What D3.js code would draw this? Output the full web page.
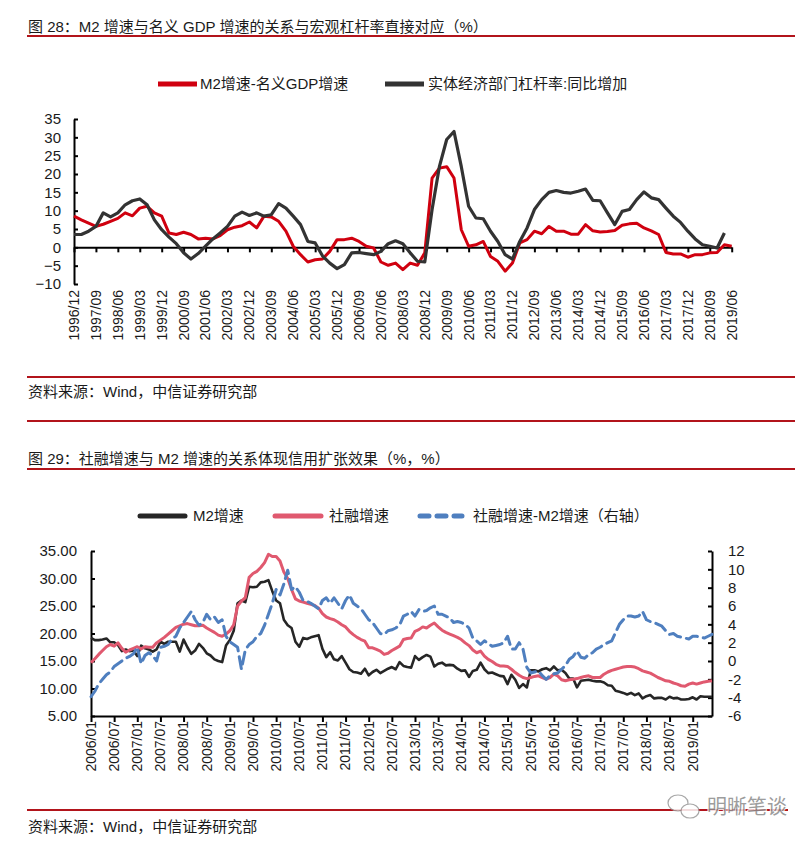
<!DOCTYPE html>
<html><head><meta charset="utf-8">
<script src="https://cdn.jsdelivr.net/npm/d3@7"></script>
<style>
body{margin:0;background:#fff;}
svg{display:block;font-family:"Liberation Sans",Arial,"Noto Sans CJK SC",sans-serif;}
</style></head><body>
<svg id="c" width="812" height="842"></svg>
<script>
// ---------- Chart 1 data (quarterly, 1996/12 - 2019/06) ----------
const q1TickLabels = ["1996/12","1997/09","1998/06","1999/03","1999/12","2000/09","2001/06","2002/03","2002/12","2003/09","2004/06","2005/03","2005/12","2006/09","2007/06","2008/03","2008/12","2009/09","2010/06","2011/03","2011/12","2012/09","2013/06","2014/03","2014/12","2015/09","2016/06","2017/03","2017/12","2018/09","2019/06"];
const m2MinusGdp = [8.5,7.5,6.6,5.7,6.3,7.1,7.9,9.4,8.6,10.7,
11.2,9.4,8.5,3.9,3.5,4.1,3.5,2.3,2.5,2.3,
3.2,4.8,5.5,5.9,6.9,5.3,8.5,8.3,7.1,4.4,
0.3,-2.0,-4.0,-3.4,-3.2,-1.1,2.1,2.1,2.5,1.6,
0.3,-0.2,-4.0,-4.9,-4.3,-6.1,-4.3,-4.9,-1.5,18.9,
21.6,22.0,18.9,4.8,0.3,0.7,1.6,-2.5,-3.8,-6.5,
-4.3,1.2,2.1,4.4,3.7,5.7,4.4,4.4,3.6,3.6,
6.2,4.5,4.2,4.3,4.6,6.0,6.4,6.6,5.3,4.5,
3.5,-1.4,-1.8,-1.8,-2.7,-2.0,-2.0,-1.5,-1.4,0.7,
0.3];
const leverageChange = [3.5,3.5,4.4,5.7,9.4,8.3,9.4,11.6,12.7,13.2,
11.6,7.5,4.8,2.8,1.0,-1.5,-3.2,-1.7,0.3,2.3,
3.9,5.7,8.5,9.6,8.7,9.4,8.5,8.9,11.9,10.7,
8.5,6.2,1.6,1.2,-2.3,-4.3,-5.8,-4.7,-1.5,-1.4,
-1.7,-2.0,-1.1,1.0,1.8,1.0,-1.5,-3.8,-4.0,10.3,
22.0,29.4,31.6,22.0,11.2,8.0,7.8,4.4,1.6,-2.0,
-3.2,1.6,5.3,10.3,13.0,15.0,15.5,15.0,14.8,15.3,
15.9,12.8,12.7,9.4,6.2,9.8,10.3,13.0,15.1,13.5,
13.0,10.7,8.5,6.8,4.4,2.3,0.7,0.3,-0.2,3.9,
null];
const y1Ticks = [-10,-5,0,5,10,15,20,25,30,35];

// ---------- Chart 2 data (monthly, 2006/01 - 2019/06) ----------
const m2TickLabels = ["2006/01","2006/07","2007/01","2007/07","2008/01","2008/07","2009/01","2009/07","2010/01","2010/07","2011/01","2011/07","2012/01","2012/07","2013/01","2013/07","2014/01","2014/07","2015/01","2015/07","2016/01","2016/07","2017/01","2017/07","2018/01","2018/07","2019/01"];
const m2Growth = [
19.2,18.8,18.8,18.9,19.1,18.4,18.4,17.9,16.8,17.1,16.8,16.9,
15.9,17.8,17.3,17.1,16.7,17.1,18.5,18.1,18.5,18.5,18.5,16.7,
18.9,17.5,16.3,16.9,18.1,17.4,16.4,16.0,15.3,15.0,14.8,17.8,
18.8,20.5,25.5,26.0,25.7,28.5,28.4,28.5,29.3,29.4,29.7,27.7,
26.0,25.5,22.5,21.5,21.0,18.5,17.6,19.2,19.0,19.3,19.5,19.7,
17.2,15.7,16.6,15.3,15.1,15.9,14.7,13.5,13.0,12.9,12.7,13.6,
12.4,13.0,13.4,12.8,13.2,13.6,13.9,13.5,14.8,14.1,13.9,13.8,
15.9,15.2,15.7,16.1,15.8,14.0,14.5,14.7,14.2,14.3,14.2,13.6,
13.2,13.3,12.1,13.2,13.4,14.7,13.5,12.8,12.9,12.6,12.3,12.2,
10.8,12.5,11.6,10.1,10.8,10.2,13.3,13.3,13.1,13.5,13.7,13.3,
14.0,13.3,13.4,12.8,11.8,11.8,10.2,11.4,11.5,11.6,11.4,11.3,
11.3,11.1,10.6,10.5,9.6,9.4,9.2,8.9,9.2,8.8,9.1,8.2,
8.6,8.8,8.2,8.3,8.3,8.0,8.5,8.2,8.3,8.0,8.0,8.1,
8.4,8.0,8.6,8.5,8.5,8.5];
const tsfGrowth = [
14.7,15.4,16.2,16.9,17.6,18.0,17.7,18.3,17.3,16.6,17.0,17.3,
17.6,17.2,17.6,17.5,17.5,18.3,18.8,19.3,19.9,20.5,21.1,21.4,
21.7,21.8,21.6,21.4,21.4,21.5,21.0,20.6,20.2,19.7,19.5,19.9,
20.5,21.6,25.0,25.9,26.5,30.2,30.9,31.3,32.0,32.9,34.4,34.0,
34.0,33.2,31.2,30.0,28.0,26.3,25.9,25.7,25.5,25.3,25.1,24.6,
23.6,23.0,22.7,22.5,22.1,21.6,21.2,20.4,19.8,19.3,18.9,18.6,
17.4,17.4,17.1,16.8,16.2,16.4,16.9,17.3,17.7,18.9,19.1,19.2,
20.4,20.7,21.2,21.0,21.5,21.9,21.2,20.6,20.2,19.9,19.6,19.3,
18.9,18.3,17.8,17.0,16.5,16.8,15.9,15.3,14.9,14.4,14.1,14.1,
14.0,13.5,12.9,12.4,12.0,11.8,12.0,12.2,12.3,12.0,11.7,12.0,
12.6,12.3,11.6,11.4,11.6,11.7,11.8,12.0,12.2,12.3,12.0,12.0,
12.0,12.6,13.0,13.3,13.5,13.7,13.9,14.0,14.0,13.9,13.6,13.2,
13.0,12.8,12.4,12.0,11.7,11.4,11.3,11.0,10.8,10.5,10.4,10.8,
11.0,10.8,11.0,11.2,11.3,11.4];
const tsfMinusM2 = [
-3.9,-3.3,-2.5,-2.0,-1.5,-1.2,-0.6,-0.3,0.0,0.3,0.5,0.8,
1.5,-0.3,0.6,0.9,0.6,0.0,1.5,1.6,1.8,2.4,2.7,3.6,
4.2,4.8,5.4,4.5,3.9,4.2,5.1,4.5,4.8,4.2,4.5,2.7,
2.1,1.8,1.5,-0.9,1.2,1.8,2.1,2.7,3.0,3.9,5.1,6.3,
7.8,7.2,8.4,9.9,7.8,8.1,7.5,6.6,6.5,6.3,6.0,5.7,
6.6,6.9,6.3,6.9,6.3,5.7,6.6,7.2,6.3,6.0,5.7,5.1,
4.5,4.2,3.6,3.0,2.9,3.3,3.4,3.6,3.9,4.9,5.1,5.4,
4.9,5.6,5.4,5.5,5.8,6.0,5.1,5.1,4.9,4.7,4.2,4.3,
4.2,4.0,3.6,2.5,2.2,1.8,2.2,1.9,1.6,1.7,1.8,2.0,
2.7,1.3,1.3,2.0,1.3,-0.7,-1.3,-1.2,-1.1,-1.6,-2.0,-1.6,
-1.4,-1.3,-0.9,-0.5,0.2,0.5,1.1,0.4,0.3,0.7,0.9,1.3,
1.5,1.8,2.0,2.2,3.1,4.0,4.5,4.9,4.9,4.8,4.9,5.4,
4.5,4.3,4.2,4.0,3.8,3.3,2.9,3.0,2.7,2.6,2.5,2.4,
2.7,2.7,2.6,2.5,2.7,2.9];
const y2LeftTicks = [5,10,15,20,25,30,35];
const y2RightTicks = [-6,-4,-2,0,2,4,6,8,10,12];

// ---------- categories ----------
const quarterCats = [];
for (let y = 1996, m = 12; quarterCats.length < m2MinusGdp.length; ) {
  quarterCats.push(y + "/" + String(m).padStart(2, "0"));
  m += 3; if (m > 12) { m -= 12; y++; }
}
const monthCats = [];
for (let y = 2006, m = 1; monthCats.length < m2Growth.length; ) {
  monthCats.push(y + "/" + String(m).padStart(2, "0"));
  m += 1; if (m > 12) { m = 1; y++; }
}

// ---------- drawing ----------
const svg = d3.select("#c");
const RULE = "#b2141b";
const TXT = "#1a1a1a";

function rule(y, x2) {
  svg.append("line").attr("x1", 27).attr("x2", x2 || 795)
    .attr("y1", y).attr("y2", y).attr("stroke", RULE).attr("stroke-width", 2);
}
function txt(x, y, s, size, opts) {
  const t = svg.append("text").attr("x", x).attr("y", y).text(s)
    .attr("font-size", size).attr("fill", TXT);
  if (opts && opts.anchor) t.attr("text-anchor", opts.anchor);
  return t;
}

// headers / footers
txt(28, 32, "图 28：M2 增速与名义 GDP 增速的关系与宏观杠杆率直接对应（%）", 15);
rule(36);
rule(377);
txt(28, 397, "资料来源：Wind，中信证券研究部", 15);
rule(421);
txt(28, 464, "图 29：社融增速与 M2 增速的关系体现信用扩张效果（%，%）", 15);
rule(469);
rule(810, 788);
txt(28, 832, "资料来源：Wind，中信证券研究部", 15);

// ===== Chart 1 =====
const c1 = { left: 74, right: 731.7, top: 119, bottom: 284 };
const x1 = d3.scalePoint().domain(quarterCats).range([c1.left, c1.right]);
const y1 = d3.scaleLinear().domain([-10, 35]).range([c1.bottom, c1.top]);
const g1 = svg.append("g");

const yAx1 = g1.append("g").attr("transform", `translate(${c1.left},0)`)
  .call(d3.axisLeft(y1).tickValues(y1Ticks).tickSizeInner(-4).tickSizeOuter(0).tickPadding(13));
const xAx1 = g1.append("g").attr("transform", `translate(0,${y1(0)})`)
  .call(d3.axisBottom(x1).tickValues(q1TickLabels).tickSizeInner(5).tickSizeOuter(0).tickFormat(""));
[yAx1, xAx1].forEach(a => {
  a.select(".domain").attr("stroke", "#000").attr("stroke-width", 2);
  a.selectAll(".tick line").attr("stroke", "#000").attr("stroke-width", 2);
  a.selectAll("text").attr("font-size", 15).attr("fill", TXT).attr("font-family", null);
});
g1.append("g").selectAll("text").data(q1TickLabels).join("text")
  .attr("transform", d => `translate(${x1(d)},290) rotate(-90)`)
  .attr("text-anchor", "end").attr("dy", "0.35em")
  .attr("font-size", 14).attr("fill", TXT).text(d => d);

const line1 = d3.line().defined(d => d[1] != null)
  .x(d => x1(d[0])).y(d => y1(d[1]));
g1.append("path").datum(quarterCats.map((c, i) => [c, m2MinusGdp[i]]))
  .attr("d", line1).attr("fill", "none").attr("stroke", "#d0000f")
  .attr("stroke-width", 3).attr("stroke-linejoin", "round");
g1.append("path").datum(quarterCats.map((c, i) => [c, leverageChange[i]]))
  .attr("d", line1).attr("fill", "none").attr("stroke", "#333333")
  .attr("stroke-width", 3.2).attr("stroke-linejoin", "round");

// legend 1
svg.append("line").attr("x1", 158).attr("x2", 197).attr("y1", 84).attr("y2", 84)
  .attr("stroke", "#d0000f").attr("stroke-width", 5);
txt(200, 89, "M2增速-名义GDP增速", 15);
svg.append("line").attr("x1", 385).attr("x2", 424).attr("y1", 84).attr("y2", 84)
  .attr("stroke", "#333333").attr("stroke-width", 5);
txt(428, 89, "实体经济部门杠杆率:同比增加", 15);

// ===== Chart 2 =====
const c2 = { left: 91, right: 712, top: 551, bottom: 716 };
const x2 = d3.scalePoint().domain(monthCats).range([c2.left, c2.right]);
const y2L = d3.scaleLinear().domain([5, 35]).range([c2.bottom, c2.top]);
const y2R = d3.scaleLinear().domain([-6, 12]).range([c2.bottom, c2.top]);
const g2 = svg.append("g");

const lAx = g2.append("g").attr("transform", `translate(${c2.left},0)`)
  .call(d3.axisLeft(y2L).tickValues(y2LeftTicks).tickSizeInner(-4).tickSizeOuter(0)
    .tickPadding(14).tickFormat(d3.format(".2f")));
const rAx = g2.append("g").attr("transform", `translate(${c2.right},0)`)
  .call(d3.axisRight(y2R).tickValues(y2RightTicks).tickSizeInner(-4).tickSizeOuter(0)
    .tickPadding(16).tickFormat(d => d < 0 ? "-" + Math.abs(d) : d));
const bAx = g2.append("g").attr("transform", `translate(0,${c2.bottom})`)
  .call(d3.axisBottom(x2).tickValues(m2TickLabels).tickSizeInner(6).tickSizeOuter(0).tickFormat(""));
[lAx, rAx, bAx].forEach(a => {
  a.select(".domain").attr("stroke", "#000").attr("stroke-width", 2);
  a.selectAll(".tick line").attr("stroke", "#000").attr("stroke-width", 2);
  a.selectAll("text").attr("font-size", 15).attr("fill", TXT).attr("font-family", null);
});
g2.append("g").selectAll("text").data(m2TickLabels).join("text")
  .attr("transform", d => `translate(${x2(d)},721) rotate(-90)`)
  .attr("text-anchor", "end").attr("dy", "0.35em")
  .attr("font-size", 14).attr("fill", TXT).text(d => d);

const lineL = d3.line().x(d => x2(d[0])).y(d => y2L(d[1]));
const lineR = d3.line().x(d => x2(d[0])).y(d => y2R(d[1]));
g2.append("path").datum(monthCats.map((c, i) => [c, m2Growth[i]]))
  .attr("d", lineL).attr("fill", "none").attr("stroke", "#262626")
  .attr("stroke-width", 2.6).attr("stroke-linejoin", "round");
g2.append("path").datum(monthCats.map((c, i) => [c, tsfGrowth[i]]))
  .attr("d", lineL).attr("fill", "none").attr("stroke", "#e0596f")
  .attr("stroke-width", 3).attr("stroke-linejoin", "round");
g2.append("path").datum(monthCats.map((c, i) => [c, tsfMinusM2[i]]))
  .attr("d", lineR).attr("fill", "none").attr("stroke", "#4f7fbf")
  .attr("stroke-width", 3).attr("stroke-linejoin", "round")
  .attr("stroke-linecap", "round").attr("stroke-dasharray", "12,6");

// legend 2
svg.append("line").attr("x1", 140).attr("x2", 185).attr("y1", 516).attr("y2", 516)
  .attr("stroke", "#262626").attr("stroke-width", 5).attr("stroke-linecap", "round");
txt(193, 521, "M2增速", 15);
svg.append("line").attr("x1", 275).attr("x2", 321).attr("y1", 516).attr("y2", 516)
  .attr("stroke", "#e0596f").attr("stroke-width", 5).attr("stroke-linecap", "round");
txt(329, 521, "社融增速", 15);
svg.append("line").attr("x1", 420).attr("x2", 462).attr("y1", 516).attr("y2", 516)
  .attr("stroke", "#4f7fbf").attr("stroke-width", 5).attr("stroke-linecap", "round")
  .attr("stroke-dasharray", "9,8");
txt(473, 521, "社融增速-M2增速（右轴）", 15);

// watermark
const wm = svg.append("g").attr("opacity", 0.85);
wm.append("ellipse").attr("cx", 678).attr("cy", 803).attr("rx", 10).attr("ry", 8)
  .attr("fill", "#fff").attr("stroke", "#999").attr("stroke-width", 1.2);
wm.append("ellipse").attr("cx", 690).attr("cy", 811).attr("rx", 9).attr("ry", 7)
  .attr("fill", "#fff").attr("stroke", "#999").attr("stroke-width", 1.2);
wm.append("text").attr("x", 707).attr("y", 814).attr("font-size", 20)
  .attr("fill", "#8c8c8c").attr("stroke", "#fff").attr("stroke-width", 2)
  .attr("paint-order", "stroke").text("明晰笔谈");
</script></body></html>
